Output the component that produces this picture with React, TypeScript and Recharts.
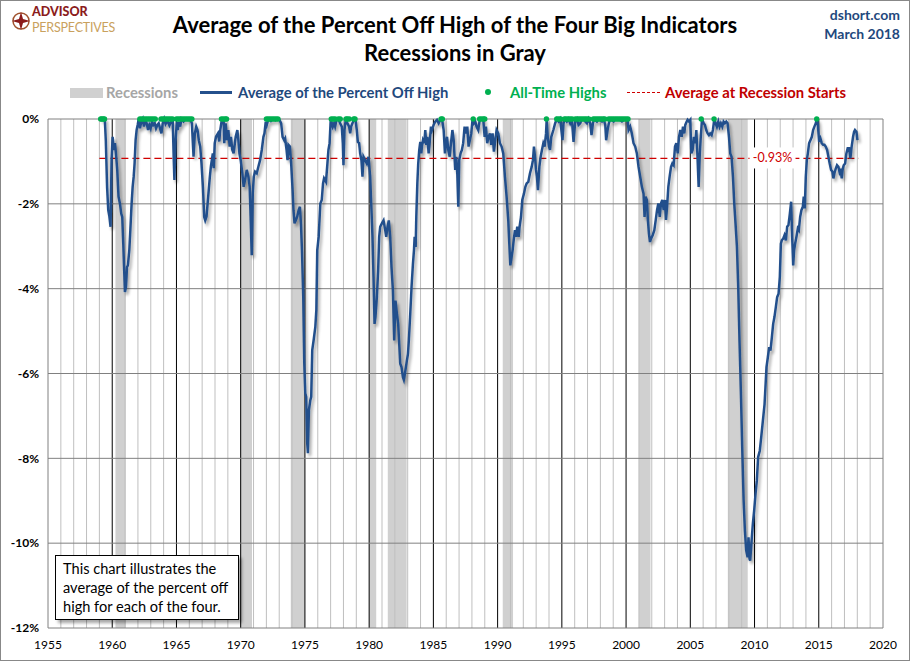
import React from 'react';
import {
  ComposedChart, Line, Scatter, XAxis, YAxis, ReferenceLine, ReferenceArea, ReferenceDot,
} from 'recharts';

// average percent off high, [year, pct], split by era
const line1959to1967: [number, number][] = [
  [1959.08, 0], [1959.17, 0], [1959.25, 0], [1959.33, 0], [1959.42, 0], [1959.5, -0.5], [1959.6, -1.6],
  [1959.69, -2.15], [1959.78, -2.3], [1959.87, -2.54], [1959.95, -0.97], [1960.03, -0.42], [1960.13, -0.73],
  [1960.21, -0.57], [1960.29, -0.81], [1960.39, -1.2], [1960.49, -1.83], [1960.6, -1.99], [1960.7, -2.23],
  [1960.78, -2.31], [1960.86, -2.94], [1960.94, -3.65], [1960.99, -4.08], [1961.07, -3.96], [1961.15, -3.49],
  [1961.22, -3.45], [1961.33, -3.09], [1961.41, -2.62], [1961.51, -1.99], [1961.59, -1.6], [1961.67, -1.36],
  [1961.74, -1.05], [1961.82, -0.5], [1961.9, -0.26], [1961.98, -0.14], [1962.06, 0], [1962.16, -0.22],
  [1962.27, -0.06], [1962.37, 0], [1962.47, -0.18], [1962.58, 0], [1962.68, -0.1], [1962.79, -0.26],
  [1962.89, -0.14], [1962.99, -0.22], [1963.1, -0.06], [1963.2, -0.14], [1963.31, -0.1], [1963.41, -0.22],
  [1963.52, -0.14], [1963.62, -0.1], [1963.72, -0.22], [1963.83, -0.34], [1963.93, -0.1], [1964.04, 0],
  [1964.15, -0.12], [1964.3, -0.04], [1964.45, -0.15], [1964.6, -0.05], [1964.71, -0.06], [1964.79, -0.95],
  [1964.84, -1.44], [1964.92, -0.57], [1965.03, -0.06], [1965.1, -0.26], [1965.18, -0.06], [1965.29, -0.18],
  [1965.39, 0], [1965.55, -0.06], [1965.7, 0], [1965.86, 0], [1966.07, 0], [1966.2, -0.1], [1966.33, -0.89],
  [1966.43, -0.34], [1966.54, -0.18], [1966.64, -0.26], [1966.74, -0.5], [1966.85, -0.65], [1966.95, -1.05],
  [1967.06, -1.6], [1967.16, -2.31], [1967.24, -2.39], [1967.34, -2.3],
];

const line1967to1977: [number, number][] = [
  [1967.47, -1.83], [1967.6, -1.36], [1967.68, -1.12], [1967.83, -0.81], [1967.9, -1.16], [1967.98, -0.57],
  [1968.08, -0.42], [1968.23, -0.34], [1968.33, -0.53], [1968.41, -0.26], [1968.54, 0], [1968.67, 0],
  [1968.72, -0.57], [1968.83, -0.1], [1968.93, -0.5], [1969.04, -0.26], [1969.14, -0.65], [1969.24, -0.42],
  [1969.35, -0.73], [1969.45, -0.81], [1969.61, -0.42], [1969.74, -0.26], [1969.82, -0.5], [1969.9, -0.81],
  [1970.0, -0.97], [1970.13, -1.28], [1970.23, -1.6], [1970.34, -1.44], [1970.47, -1.2], [1970.6, -1.36],
  [1970.7, -1.6], [1970.78, -2.38], [1970.86, -3.21], [1970.94, -1.75], [1971.02, -1.36], [1971.12, -1.24],
  [1971.25, -1.28], [1971.38, -1.12], [1971.51, -0.97], [1971.64, -0.73], [1971.77, -0.42], [1971.85, -0.34],
  [1971.95, -0.06], [1972.03, -0.14], [1972.16, 0], [1972.35, -0.05], [1972.5, 0], [1972.7, -0.03],
  [1972.85, 0], [1972.99, 0], [1973.15, -0.1], [1973.26, -0.42], [1973.39, -0.5], [1973.46, -0.46],
  [1973.57, -0.73], [1973.65, -0.97], [1973.72, -0.61], [1973.83, -0.65], [1973.93, -1.05], [1974.04, -1.67],
  [1974.11, -2.15], [1974.19, -2.46], [1974.3, -2.38], [1974.4, -2.3], [1974.51, -2.15], [1974.61, -2.07],
  [1974.69, -2.46], [1974.77, -3.09], [1974.87, -4.19], [1974.95, -5.76], [1975.03, -6.47], [1975.1, -6.55],
  [1975.18, -7.65], [1975.23, -7.88], [1975.31, -6.86], [1975.42, -6.63], [1975.49, -6.55], [1975.57, -5.45],
  [1975.68, -5.21], [1975.81, -4.9], [1975.89, -4.5], [1975.96, -3.09], [1976.07, -2.78], [1976.2, -1.99],
  [1976.31, -1.91], [1976.41, -1.52], [1976.49, -1.4], [1976.64, -1.48], [1976.75, -1.05], [1976.83, -0.73],
  [1976.92, -0.57],
];

const line1977to1987: [number, number][] = [
  [1977.01, 0], [1977.17, -0.18], [1977.27, -0.1], [1977.35, -0.18], [1977.48, 0], [1977.61, 0],
  [1977.74, -0.1], [1977.87, -0.18], [1977.95, -0.57], [1978.0, -1.09], [1978.08, -0.26], [1978.18, 0],
  [1978.31, -0.1], [1978.44, -0.18], [1978.52, -0.34], [1978.6, -0.18], [1978.7, -0.1], [1978.83, 0],
  [1978.93, 0], [1979.04, -0.26], [1979.12, -0.54], [1979.22, -0.57], [1979.3, -0.81], [1979.4, -0.97],
  [1979.48, -1.36], [1979.56, -0.89], [1979.69, -0.97], [1979.82, -1.05], [1979.95, -0.89], [1980.08, -1.36],
  [1980.16, -1.99], [1980.26, -2.78], [1980.34, -3.72], [1980.42, -4.83], [1980.49, -4.67], [1980.6, -4.2],
  [1980.7, -3.57], [1980.78, -2.78], [1980.86, -2.54], [1980.99, -2.46], [1981.12, -2.39], [1981.25, -2.62],
  [1981.33, -2.78], [1981.43, -2.54], [1981.53, -2.39], [1981.64, -2.78], [1981.74, -3.49], [1981.85, -4.04],
  [1981.95, -5.22], [1982.05, -4.28], [1982.16, -4.59], [1982.26, -4.83], [1982.34, -5.3], [1982.42, -5.77],
  [1982.52, -5.85], [1982.63, -6.09], [1982.7, -6.15], [1982.78, -6.01], [1982.86, -5.85], [1982.94, -5.69],
  [1983.02, -5.54], [1983.09, -5.22], [1983.2, -4.59], [1983.3, -3.96], [1983.41, -3.41], [1983.49, -3.09],
  [1983.54, -2.78], [1983.62, -3.02], [1983.67, -2.31], [1983.75, -1.52], [1983.82, -1.05], [1983.9, -0.73],
  [1983.98, -0.54], [1984.06, -0.81], [1984.11, -0.65], [1984.19, -0.5], [1984.29, -0.57], [1984.37, -0.26],
  [1984.45, -0.61], [1984.53, -0.42], [1984.63, -0.81], [1984.71, -0.57], [1984.81, -0.18], [1984.89, -0.26],
  [1985.02, -0.14], [1985.15, -0.06], [1985.28, -0.02], [1985.41, -0.1], [1985.54, -0.02], [1985.67, 0],
  [1985.8, -0.26], [1985.9, -0.81], [1985.98, -0.57], [1986.06, -0.42], [1986.16, -0.73], [1986.27, -0.89],
  [1986.37, -0.57], [1986.48, -0.26], [1986.58, -0.5], [1986.7, -1.2], [1986.78, -0.89], [1986.86, -1.28],
  [1986.94, -2.07],
];

const line1987to1994: [number, number][] = [
  [1987.01, -0.97], [1987.12, -0.81], [1987.22, -0.73], [1987.32, -0.57], [1987.43, -0.18], [1987.53, -0.34],
  [1987.64, -0.18], [1987.74, -0.65], [1987.84, -0.5], [1987.95, -0.34], [1988.05, 0], [1988.16, -0.1],
  [1988.26, -0.06], [1988.36, -0.18], [1988.49, -0.26], [1988.62, 0], [1988.75, 0], [1988.88, 0],
  [1988.99, -0.42], [1989.09, -0.18], [1989.19, -0.57], [1989.3, -0.42], [1989.4, -0.34], [1989.51, -0.61],
  [1989.61, -0.34], [1989.71, -0.77], [1989.82, -0.5], [1989.92, -0.26], [1990.05, -0.34], [1990.18, -0.57],
  [1990.31, -0.65], [1990.44, -0.81], [1990.57, -1.36], [1990.7, -1.83], [1990.83, -2.39], [1990.91, -2.94],
  [1990.99, -3.45], [1991.09, -3.25], [1991.17, -3.09], [1991.25, -2.86], [1991.35, -2.62], [1991.43, -2.78],
  [1991.53, -2.54], [1991.64, -2.78], [1991.71, -2.54], [1991.82, -2.31], [1991.92, -1.91], [1992.05, -1.76],
  [1992.16, -1.6], [1992.26, -1.52], [1992.39, -1.48], [1992.52, -1.28], [1992.65, -1.13], [1992.75, -0.97],
  [1992.83, -0.65], [1992.91, -0.89], [1992.99, -1.2], [1993.06, -1.36], [1993.14, -1.68], [1993.25, -1.13],
  [1993.35, -0.89], [1993.45, -0.73], [1993.56, -0.57], [1993.66, -0.65], [1993.77, -0.34], [1993.82, 0],
  [1993.9, -0.42], [1994.0, -0.65], [1994.08, -0.73], [1994.18, -0.42], [1994.34, -0.26], [1994.48, -0.1],
];

const line1994to2003: [number, number][] = [
  [1994.61, 0], [1994.74, -0.06], [1994.87, 0], [1995.05, -0.5], [1995.13, -0.1], [1995.26, 0],
  [1995.39, -0.06], [1995.52, 0], [1995.65, -0.1], [1995.78, 0], [1995.91, -0.54], [1996.04, -0.06],
  [1996.17, 0], [1996.3, -0.14], [1996.43, -0.1], [1996.56, 0], [1996.69, 0], [1996.82, -0.06],
  [1996.95, -0.1], [1997.08, 0], [1997.21, -0.1], [1997.31, -0.38], [1997.42, -0.1], [1997.52, 0],
  [1997.73, -0.06], [1997.86, 0], [1998.12, -0.06], [1998.25, 0], [1998.38, -0.14], [1998.45, -0.5],
  [1998.56, -0.26], [1998.66, -0.1], [1998.77, 0], [1999.03, -0.06], [1999.16, 0], [1999.42, 0],
  [1999.68, -0.06], [1999.94, 0], [2000.12, 0], [2000.19, -0.26], [2000.32, -0.18], [2000.45, -0.34],
  [2000.58, -0.57], [2000.71, -0.65], [2000.84, -0.81], [2000.97, -1.13], [2001.1, -1.36], [2001.23, -1.6],
  [2001.36, -1.76], [2001.44, -2.31], [2001.52, -1.83], [2001.62, -1.91], [2001.7, -2.39], [2001.78, -2.7],
  [2001.86, -2.9], [2001.94, -2.82], [2002.07, -2.74], [2002.2, -2.62], [2002.31, -2.38], [2002.41, -2.15],
  [2002.51, -1.99], [2002.62, -2.31], [2002.72, -1.99], [2002.82, -1.91], [2002.93, -2.15],
];

const line2003to2010: [number, number][] = [
  [2003.03, -1.91], [2003.11, -2.38], [2003.19, -2.07], [2003.29, -1.6], [2003.39, -1.36], [2003.5, -1.13],
  [2003.6, -1.05], [2003.7, -1.09], [2003.81, -0.65], [2003.91, -0.57], [2004.02, -0.81], [2004.12, -0.42],
  [2004.22, -0.26], [2004.33, -0.42], [2004.43, -0.18], [2004.53, -0.34], [2004.61, -0.14], [2004.72, -0.06],
  [2004.79, -0.02], [2004.9, -0.06], [2005.0, -0.02], [2005.08, -0.81], [2005.18, -0.73], [2005.28, -0.42],
  [2005.39, -0.57], [2005.47, -0.26], [2005.57, -0.97], [2005.65, -1.6], [2005.73, -0.89], [2005.8, -0.5],
  [2005.91, 0], [2006.04, -0.1], [2006.14, -0.14], [2006.24, -0.26], [2006.35, -0.34], [2006.45, -0.38],
  [2006.55, -0.34], [2006.66, -0.38], [2006.76, -0.26], [2006.87, 0], [2006.97, -0.1], [2007.07, -0.18],
  [2007.18, -0.06], [2007.28, -0.18], [2007.38, -0.1], [2007.49, -0.18], [2007.59, -0.06], [2007.69, -0.1],
  [2007.8, -0.06], [2007.9, -0.1], [2008.01, -0.42], [2008.11, -0.81], [2008.21, -0.89], [2008.32, -1.36],
  [2008.42, -1.99], [2008.52, -2.46], [2008.63, -3.01], [2008.73, -3.96], [2008.83, -5.22], [2008.94, -6.47],
  [2009.04, -7.73], [2009.15, -8.99], [2009.25, -9.7], [2009.35, -10.17], [2009.46, -10.33], [2009.53, -9.86],
  [2009.61, -10.37], [2009.66, -10.41], [2009.72, -10.17], [2009.79, -9.86], [2009.87, -9.54], [2009.97, -9.23],
  [2010.08, -8.83], [2010.18, -8.52], [2010.28, -7.97],
];

const line2010to2018: [number, number][] = [
  [2010.41, -7.82], [2010.52, -7.5], [2010.65, -7.11], [2010.78, -6.72], [2010.85, -6.32], [2010.93, -5.85],
  [2011.04, -5.61], [2011.14, -5.38], [2011.24, -5.46], [2011.35, -5.14], [2011.45, -4.83], [2011.55, -4.67],
  [2011.66, -4.43], [2011.76, -4.2], [2011.87, -4.12], [2011.97, -3.72], [2012.05, -2.94], [2012.12, -2.86],
  [2012.23, -2.82], [2012.33, -2.74], [2012.44, -2.86], [2012.54, -2.54], [2012.64, -2.5], [2012.75, -2.23],
  [2012.85, -1.95], [2012.93, -2.78], [2013.01, -3.45], [2013.08, -3.09], [2013.16, -2.94], [2013.26, -2.78],
  [2013.37, -2.58], [2013.45, -2.62], [2013.55, -2.31], [2013.65, -2.15], [2013.76, -2.07], [2013.83, -1.83],
  [2013.91, -2.11], [2013.99, -1.36], [2014.07, -0.97], [2014.15, -0.81], [2014.25, -0.57], [2014.35, -0.5],
  [2014.46, -0.42], [2014.56, -0.26], [2014.66, -0.18], [2014.77, -0.1], [2014.84, 0], [2014.92, -0.1],
  [2015.03, -0.54], [2015.13, -0.46], [2015.23, -0.57], [2015.34, -0.61], [2015.44, -0.61], [2015.54, -0.65],
  [2015.65, -0.73], [2015.75, -0.89], [2015.85, -1.05], [2015.96, -1.2], [2016.06, -1.24], [2016.14, -1.4],
  [2016.22, -1.28], [2016.32, -1.17], [2016.42, -1.09], [2016.53, -1.13], [2016.61, -1.24], [2016.68, -1.17],
  [2016.79, -1.4], [2016.87, -1.17], [2016.94, -1.09], [2017.05, -1.05], [2017.15, -0.81], [2017.25, -0.69],
  [2017.36, -0.69], [2017.46, -0.93], [2017.56, -0.65], [2017.67, -0.42], [2017.75, -0.3], [2017.82, -0.26],
  [2017.93, -0.3], [2018.01, -0.5],
];

// months at an all-time high (green dots on the 0% line)
const athYears: number[] = [
  1959.1, 1959.2, 1959.3, 1959.4,
  1962.15, 1962.3, 1962.45, 1962.6, 1962.75, 1962.9, 1963.05, 1963.2, 1963.35,
  1963.8, 1963.95, 1964.1, 1964.25, 1964.4, 1964.55, 1964.7, 1965.0, 1965.15, 1965.3, 1965.45, 1965.6,
  1965.75, 1965.9, 1966.05, 1966.2,
  1968.5, 1968.65, 1968.8, 1968.9,
  1972.0, 1972.15, 1972.3, 1972.45, 1972.6, 1972.75, 1972.9,
  1977.05, 1977.2, 1977.35, 1977.6, 1977.75, 1978.2, 1978.3, 1978.45, 1978.8, 1978.9,
  1985.6, 1985.7,
  1988.1, 1988.6, 1988.75, 1988.9, 1989.0,
  1993.8,
  1994.6, 1994.75, 1994.9, 1995.2, 1995.35, 1995.5, 1995.65, 1995.8, 1996.05, 1996.2, 1996.35, 1996.5,
  1996.65, 1996.8, 1996.95, 1997.1, 1997.45, 1997.6, 1997.75, 1997.9, 1998.05, 1998.2, 1998.35, 1998.65,
  1998.8, 1998.95, 1999.1, 1999.25, 1999.4, 1999.55, 1999.7, 1999.85, 2000.0, 2000.15,
  2005.85, 2006.85,
  2014.84,
];

// recession bands as shaded on the chart
const recessions: [number, number][] = [
  [1960.25, 1961.05], [1969.95, 1970.88], [1973.9, 1975.0], [1980.0, 1980.55],
  [1981.45, 1982.92], [1990.4, 1991.2], [2001.0, 2001.9], [2007.92, 2009.47],
];

const avgAtRecessionStart = -0.93;
const avgLineSpan: [number, number] = [1959.0, 2018.1];

const xTicks = [1955, 1960, 1965, 1970, 1975, 1980, 1985, 1990, 1995, 2000, 2005, 2010, 2015, 2020];
const yTicks = [0, -2, -4, -6, -8, -10, -12];

const BLUE = '#24508C';
const GREEN = '#00B050';
const RED = '#D00000';
const FONT = 'Lato, "Liberation Sans", sans-serif';

const lineData = [
  ...line1959to1967, ...line1967to1977, ...line1977to1987, ...line1987to1994,
  ...line1994to2003, ...line2003to2010, ...line2010to2018,
].map(([year, pct]) => ({ year, pct }));

const athData = athYears.map(year => ({ year, pct: 0 }));

const gridYears: number[] = [];
for (let y = 1956; y < 2020; y++) gridYears.push(y);

function AvgLabel(props: any) {
  const { cx, cy } = props;
  return (
    <g>
      <rect x={cx - 23} y={cy - 11} width={46} height={21} fill="#fff" />
      <text x={cx} y={cy + 4} textAnchor="middle" fill={RED} fontSize={12.5} fontFamily={FONT}>-0.93%</text>
    </g>
  );
}

function Legend() {
  const txt = { position: 'absolute' as const, top: 83, fontSize: 14.8, fontWeight: 700, lineHeight: '18px' };
  return (
    <>
      <div style={{ position: 'absolute', left: 70, top: 88, width: 33, height: 10, background: '#D0D0D0' }} />
      <div style={{ ...txt, left: 106, color: '#A6A6A6' }}>Recessions</div>
      <div style={{ position: 'absolute', left: 200, top: 91, width: 32, height: 3, background: BLUE }} />
      <div style={{ ...txt, left: 238, color: '#1F497D' }}>Average of the Percent Off High</div>
      <div style={{ position: 'absolute', left: 485, top: 89, width: 6, height: 6, borderRadius: 3, background: GREEN }} />
      <div style={{ ...txt, left: 510, color: GREEN }}>All-Time Highs</div>
      <div style={{ position: 'absolute', left: 627, top: 92, width: 33, height: 0, borderTop: `1.5px dashed ${RED}` }} />
      <div style={{ ...txt, left: 665, color: '#C00000' }}>Average at Recession Starts</div>
    </>
  );
}

export default function App() {
  return (
    <div style={{ position: 'relative', width: 910, height: 661, background: '#fff', fontFamily: FONT, overflow: 'hidden' }}>
      <style>{'body{margin:0}'}</style>

      {/* logo */}
      <svg style={{ position: 'absolute', left: 11, top: 11 }} width={20} height={20} viewBox="0 0 20 20">
        <circle cx={10} cy={10} r={8} fill="none" stroke="#A0522D" strokeWidth={1.5} />
        <path d="M10 1 L12 8 L19 10 L12 12 L10 19 L8 12 L1 10 L8 8 Z" fill="#8B1A1A" />
      </svg>
      <div style={{ position: 'absolute', left: 32, top: 5, fontSize: 12.5, fontWeight: 900, color: '#8B1C1C', lineHeight: '13px' }}>ADVISOR</div>
      <div style={{ position: 'absolute', left: 32, top: 21, fontSize: 12.5, color: '#C9A15D', lineHeight: '13px', letterSpacing: -0.2 }}>PERSPECTIVES</div>

      {/* title */}
      <div style={{ position: 'absolute', left: 0, width: 910, top: 11, textAlign: 'center', fontSize: 22, fontWeight: 700, lineHeight: '28px', color: '#000' }}>
        Average of the Percent Off High of the Four Big Indicators<br />Recessions in Gray
      </div>
      <div style={{ position: 'absolute', right: 10, top: 5, textAlign: 'right', fontSize: 14, fontWeight: 700, color: '#1F497D', lineHeight: '19px' }}>
        dshort.com<br />March 2018
      </div>

      <Legend />

      <div style={{ position: 'absolute', left: 0, top: 0 }}>
        <ComposedChart width={910} height={661} data={lineData} margin={{ top: 119, right: 27, bottom: 0, left: 0 }}>
          <defs>
            <filter id="lineShadow" x="-5%" y="-5%" width="110%" height="110%">
              <feGaussianBlur in="SourceAlpha" stdDeviation="1.6" />
              <feOffset dx="2" dy="3" result="blur" />
              <feComponentTransfer><feFuncA type="linear" slope="0.35" /></feComponentTransfer>
              <feMerge><feMergeNode /><feMergeNode in="SourceGraphic" /></feMerge>
            </filter>
          </defs>
          <XAxis
            type="number" dataKey="year" domain={[1955, 2020]} ticks={xTicks} height={33}
            axisLine={false} tickLine={false} tickSize={0} tickMargin={12}
            tick={{ fontSize: 12, fill: '#000', fontFamily: FONT }}
          />
          <YAxis
            type="number" domain={[-12, 0]} ticks={yTicks} width={48}
            axisLine={false} tickLine={false} tickSize={0} tickMargin={9}
            tickFormatter={v => `${v}%`}
            tick={{ fontSize: 12, fill: '#000', fontWeight: 700, fontFamily: FONT }}
          />
          {recessions.map(([a, b]) => (
            <ReferenceArea key={a} x1={a} x2={b} y1={-12} y2={0} fill="#D0D0D0" fillOpacity={1} stroke="none" />
          ))}
          {gridYears.map(y => (
            <ReferenceLine key={y} x={y} stroke={y % 5 === 0 ? '#000' : '#BFBFBF'} strokeWidth={1} />
          ))}
          {yTicks.map(v => (
            <ReferenceLine key={`h${v}`} y={v} stroke="#808080" strokeWidth={1} />
          ))}
          <ReferenceLine x={1955} stroke="#808080" />
          <ReferenceLine x={2020} stroke="#808080" />
          <ReferenceLine
            segment={[{ x: avgLineSpan[0], y: avgAtRecessionStart }, { x: avgLineSpan[1], y: avgAtRecessionStart }]}
            stroke={RED} strokeWidth={1.3} strokeDasharray="7 4"
          />
          <ReferenceDot x={2011.4} y={avgAtRecessionStart} r={0} shape={AvgLabel} />
          <Line
            type="linear" dataKey="pct" stroke={BLUE} strokeWidth={2.5} dot={false}
            isAnimationActive={false} filter="url(#lineShadow)"
          />
          <Scatter
            data={athData} dataKey="pct" fill={GREEN} isAnimationActive={false}
            shape={(p: any) => <circle cx={p.cx} cy={p.cy} r={2.7} fill={GREEN} />}
          />
        </ComposedChart>
      </div>

      {/* note box */}
      <div style={{
        position: 'absolute', left: 55, top: 555, width: 184, height: 65, background: '#fff',
        border: '1px solid #000', boxShadow: '3px 3px 3px rgba(0,0,0,0.35)', fontSize: 14.6,
        lineHeight: '19px', padding: '3px 0 0 7px', boxSizing: 'border-box', color: '#000',
      }}>
        This chart illustrates the<br />average of the percent off<br />high for each of the four.
      </div>

      <div style={{ position: 'absolute', inset: 0, border: '1px solid #888', pointerEvents: 'none' }} />
    </div>
  );
}
